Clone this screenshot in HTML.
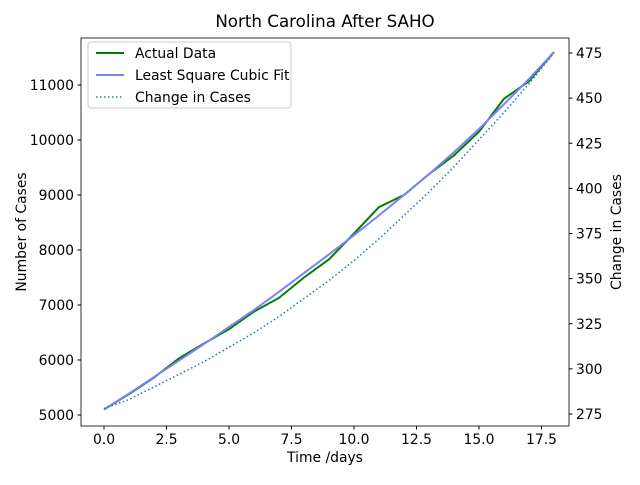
<!DOCTYPE html>
<html><head><meta charset="utf-8"><style>
body{margin:0;background:#fff;font-family:"Liberation Sans","DejaVu Sans",sans-serif;}
svg text{font-family:"DejaVu Sans","Liberation Sans",sans-serif;font-size:13.9px;fill:#000}
</style></head><body>
<svg id="chart" width="640" height="480" xmlns="http://www.w3.org/2000/svg">
<rect width="640" height="480" fill="#fff"/>
<text x="325" y="27" text-anchor="middle" style="font-size:16.7px">North Carolina After SAHO</text>
<g id="plot"></g>
<rect x="81" y="38" width="488" height="388" fill="none" stroke="#000" stroke-width="0.8"/>
<text x="325" y="462" text-anchor="middle">Time /days</text>
<text transform="translate(26,232) rotate(-90)" text-anchor="middle">Number of Cases</text>
<text transform="translate(621,232) rotate(-90)" text-anchor="middle">Change in Cases</text>
<g>
<rect x="88" y="42" width="203" height="66" rx="3" fill="#fff" fill-opacity="0.8" stroke="#ccc"/>
<line x1="96" y1="53" x2="124" y2="53" stroke="#008000" stroke-width="2"/>
<text x="135" y="58">Actual Data</text>
<line x1="96" y1="75" x2="124" y2="75" stroke="#8080ff" stroke-width="2"/>
<text x="135" y="80">Least Square Cubic Fit</text>
<line x1="96" y1="97" x2="124" y2="97" stroke="#1f77b4" stroke-width="1.5" stroke-dasharray="1.5,2.5"/>
<text x="135" y="102">Change in Cases</text>
</g>
</svg>
<script>
const days=[0,1,2,3,4,5,6,7,8,9,10,11,12,13,14,15,16,17,18];
const actual=[5100,5380,5680,6030,6300,6560,6880,7130,7500,7830,8300,8780,9000,9380,9720,10150,10750,11070,11600];
const fit=[5100,5390,5690,5990,6290,6600,6910,7240,7580,7920,8270,8630,9000,9380,9780,10200,10650,11110,11600];
const change=[278,283,290,297,304,312,320,329,339,349,360,372,385,398,412,427,442,458,475];
const xTicks=[0,2.5,5,7.5,10,12.5,15,17.5];
const yTicks=[5000,6000,7000,8000,9000,10000,11000];
const rTicks=[275,300,325,350,375,400,425,450,475];
const X=d=>104+d*25, Y=v=>415-(v-5000)*0.055, R=v=>414-(v-275)*1.805;
const g=document.getElementById('plot'),NS='http://www.w3.org/2000/svg';
function mk(t,a){const e=document.createElementNS(NS,t);for(const k in a)e.setAttribute(k,a[k]);g.appendChild(e);return e;}
xTicks.forEach(t=>{const l=mk('line',{x1:X(t),x2:X(t),y1:426,y2:429.5,stroke:'#000'});


const s=mk('text',{x:X(t),y:444,'text-anchor':'middle'});s.textContent=t.toFixed(1);

});
yTicks.forEach(t=>{const l=mk('line',{x1:77.5,x2:81,y1:Y(t),y2:Y(t),stroke:'#000'});


const s=mk('text',{x:74,y:Y(t)+5,'text-anchor':'end'});s.textContent=t;

});
rTicks.forEach(t=>{const l=mk('line',{x1:569,x2:572.5,y1:R(t),y2:R(t),stroke:'#000'});


const s=mk('text',{x:576,y:R(t)+5});s.textContent=t;

});
const pts=(arr,f)=>days.map((d,i)=>X(d)+','+f(arr[i])).join(' ');
const a=mk('polyline',{points:pts(actual,Y),fill:'none',stroke:'#008000','stroke-width':2});


const f=mk('polyline',{points:pts(fit,Y),fill:'none',stroke:'#8080ff','stroke-width':2});


const c=mk('polyline',{points:pts(change,R),fill:'none',stroke:'#1f77b4','stroke-width':1.5,'stroke-dasharray':'1.5,2.5'});


</script>
</body></html>
